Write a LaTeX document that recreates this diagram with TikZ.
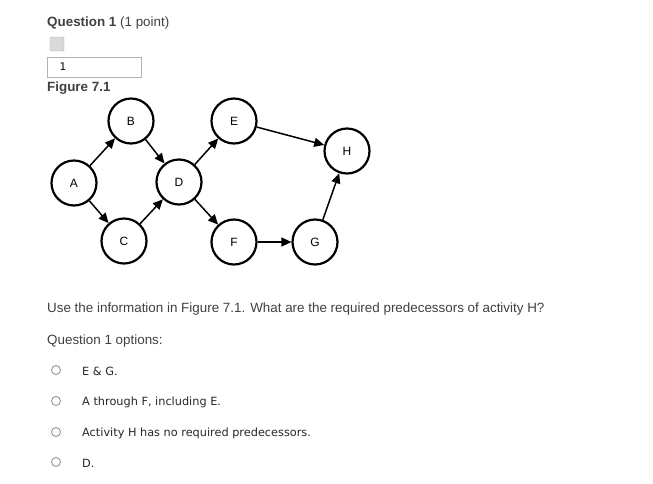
\documentclass[tikz,border=0pt]{standalone}
\usepackage{fontspec}
\setmainfont{Liberation Sans}
\newfontfamily\optfont{DejaVu Sans}
\usetikzlibrary{arrows.meta}
\begin{document}
\begin{tikzpicture}[x=1pt,y=-1pt,
  act/.style={circle,draw,line width=2.2pt,minimum size=45pt,inner sep=0pt,font=\fontsize{12}{14}\selectfont},
  arr/.style={-{Triangle[length=10pt,width=9pt]},line width=1.5pt},
  txt/.style={anchor=west,inner sep=0pt,text=black!75,font=\fontsize{13.4}{16}\selectfont},
  opt/.style={anchor=west,inner sep=0pt,text=black!85,font=\optfont\fontsize{11.3}{13}\selectfont},
  radio/.style={circle,draw=black!45,line width=0.8pt,minimum size=9pt,inner sep=0pt}]
\useasboundingbox (0,0) rectangle (653,483);
\node[txt] (q) at (47,23) {\textbf{Question 1} (1 point)};
\node[draw=black!30,fill=black!15,minimum width=14pt,minimum height=14pt,inner sep=0pt,rounded corners=1pt] (ic) at (57,44) {};
\node[draw=black!30,minimum width=94pt,minimum height=20pt,anchor=north west,inner sep=0pt] (box) at (47,57) {};
\node[anchor=west,font=\optfont\fontsize{10.5}{12}\selectfont] (one) at (56,67) {1};
\node[txt] (fig) at (47,88) {\textbf{Figure 7.1}};
\node[act] (A) at (74,183) {A};
\node[act] (B) at (131,121) {B};
\node[act] (C) at (124,241) {C};
\node[act] (D) at (179,182) {D};
\node[act] (E) at (234,121) {E};
\node[act] (F) at (234,242) {F};
\node[act] (G) at (315,242) {G};
\node[act] (H) at (347,151) {H};
\draw[arr] (A) -- (B);
\draw[arr] (A) -- (C);
\draw[arr] (B) -- (D);
\draw[arr] (C) -- (D);
\draw[arr] (D) -- (E);
\draw[arr] (D) -- (F);
\draw[arr] (E) -- (H);
\draw[arr] (F) -- (G);
\draw[arr] (G) -- (H);
\node[txt] (qt) at (47,309) {Use the information in Figure 7.1. What are the required predecessors of activity H?};
\node[txt] (qo) at (47,341) {Question 1 options:};
\node[radio] (r1) at (56,370) {};
\node[radio] (r2) at (56,401) {};
\node[radio] (r3) at (56,432) {};
\node[radio] (r4) at (56,462) {};
\node[opt] (o1) at (82,371) {E \& G.};
\node[opt] (o2) at (82,402) {A through F, including E.};
\node[opt] (o3) at (82,433) {Activity H has no required predecessors.};
\node[opt] (o4) at (82,463) {D.};
\end{tikzpicture}
\end{document}
